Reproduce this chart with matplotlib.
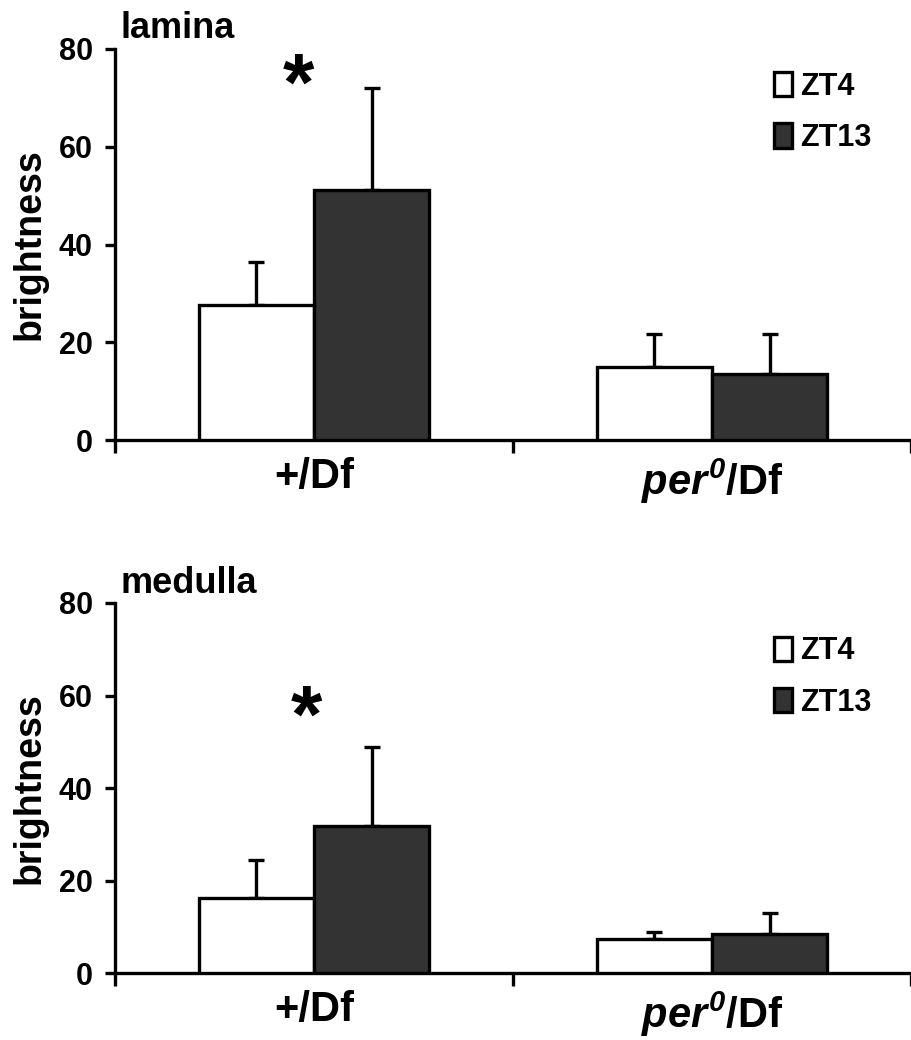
import numpy as np
import matplotlib
matplotlib.use('Agg')
import matplotlib.pyplot as plt
from matplotlib.patches import Patch

plt.rcParams['font.family'] = 'Liberation Sans'
plt.rcParams['font.weight'] = 'bold'
plt.rcParams['axes.labelweight'] = 'bold'
plt.rcParams['mathtext.fontset'] = 'custom'
# only "per" and its superscript are in math mode, both bold italic
plt.rcParams['mathtext.rm'] = 'Liberation Sans:italic:bold'
plt.rcParams['mathtext.it'] = 'Liberation Sans:italic:bold'
plt.rcParams['mathtext.bf'] = 'Liberation Sans:italic:bold'

groups = ['+/Df', r'$per^{0}$/Df']
series = ['ZT4', 'ZT13']

lamina_zt4 = [27.6, 15.0]
lamina_zt4_err = [8.8, 6.6]
lamina_zt13 = [51.1, 13.6]
lamina_zt13_err = [20.9, 8.0]

medulla_zt4 = [16.2, 7.35]
medulla_zt4_err = [8.2, 1.55]
medulla_zt13 = [31.8, 8.4]
medulla_zt13_err = [17.1, 4.6]

panels = [
    ('lamina', lamina_zt4, lamina_zt4_err, lamina_zt13, lamina_zt13_err, -0.04, 72.0, 0.931),
    ('medulla', medulla_zt4, medulla_zt4_err, medulla_zt13, medulla_zt13_err, -0.02, 54.5, 0.388),
]

fig = plt.figure(figsize=(9.11, 10.4), dpi=100)
axes_pos = [[0.1262, 0.5769, 0.8738, 0.3760],
            [0.1262, 0.0644, 0.8738, 0.3558]]

lw = 2.4
dark = '#333333'
w = 0.29
x = np.arange(len(groups))

for pos, (title, z4, e4, z13, e13, star_x, star_y, leg_y) in zip(axes_pos, panels):
    ax = fig.add_axes(pos)
    ax.bar(x - w / 2, z4, w, color='white', edgecolor='black', linewidth=lw, zorder=3)
    ax.bar(x + w / 2, z13, w, color=dark, edgecolor='black', linewidth=lw, zorder=3)
    ax.errorbar(x - w / 2, z4, yerr=[np.zeros(len(z4)), e4], fmt='none', ecolor='black',
                elinewidth=lw, capsize=6, capthick=lw, zorder=2)
    ax.errorbar(x + w / 2, z13, yerr=[np.zeros(len(z13)), e13], fmt='none', ecolor='black',
                elinewidth=lw, capsize=6, capthick=lw, zorder=2)

    ax.set_xlim(-0.5, 1.49)
    ax.set_ylim(0, 80)
    ax.set_yticks([0, 20, 40, 60, 80])
    ax.tick_params(axis='y', labelsize=22, width=lw, length=7, pad=9)
    ax.set_xticks([-0.5, 0.5, 1.5])
    ax.set_xticklabels([])
    ax.tick_params(axis='x', which='major', width=lw, length=9)
    ax.set_xticks(x, groups, minor=True)
    ax.tick_params(axis='x', which='minor', length=0, labelsize=30, pad=12)

    for s in ['top', 'right']:
        ax.spines[s].set_visible(False)
    for s in ['left', 'bottom']:
        ax.spines[s].set_linewidth(lw)

    ax.set_ylabel('brightness', fontsize=27, labelpad=8)
    ax.text(0.007, 1.028, title, transform=ax.transAxes, fontsize=26, ha='left', va='baseline')
    ax.text(star_x, star_y, '*', fontsize=58, ha='center', va='center')

    handles = [Patch(facecolor='white', edgecolor='black', linewidth=lw),
               Patch(facecolor=dark, edgecolor='black', linewidth=lw)]
    fig.legend(handles, series, loc='upper left', bbox_to_anchor=(774 / 911, leg_y),
               frameon=False, fontsize=22, handlelength=0.6, handleheight=0.85,
               handletextpad=0.25, labelspacing=0.7, borderpad=0, borderaxespad=0)

fig.savefig('out.png', dpi=100)
